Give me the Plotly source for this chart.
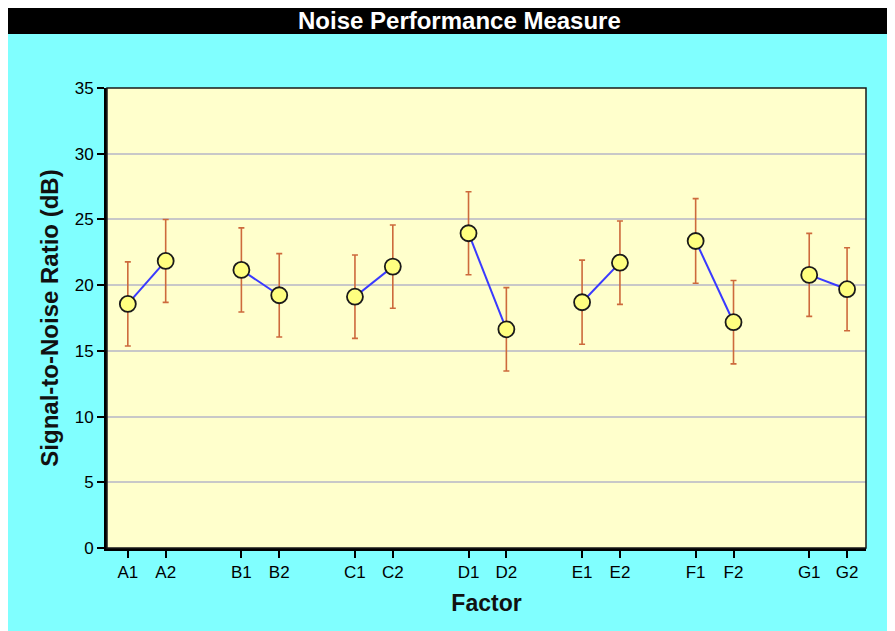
import plotly.graph_objects as go

# ---- data ----
factors = ["A", "B", "C", "D", "E", "F", "G"]
levels = ["1", "2"]
sn_ratio = [
    [18.57, 21.84],
    [21.16, 19.23],
    [19.12, 21.41],
    [23.95, 16.64],
    [18.70, 21.71],
    [23.36, 17.18],
    [20.78, 19.69],
]
sn_error = [
    [3.2, 3.15],
    [3.2, 3.17],
    [3.17, 3.17],
    [3.16, 3.17],
    [3.2, 3.17],
    [3.22, 3.17],
    [3.16, 3.16],
]
y_ticks = [0, 5, 10, 15, 20, 25, 30, 35]

# ---- styling ----
FONT = "Liberation Sans, Arial, sans-serif"
W, H = 895, 631
L, R, T, B = 99, 37, 80, 91
PW, PH = W - L - R, H - T - B


def px_x(px):
    return (px - L) / PW


def px_y(py):
    return (H - B - py) / PH


fig = go.Figure()

tickvals, ticktext = [], []
for gi, f in enumerate(factors):
    xs = [gi * 3 + li for li in range(len(levels))]
    labels = [f + lv for lv in levels]
    tickvals += xs
    ticktext += labels
    fig.add_trace(go.Scatter(
        x=xs, y=sn_ratio[gi],
        mode="lines+markers",
        line=dict(color="#3a3aff", width=2),
        marker=dict(size=16, color="#ffff80", line=dict(color="#1a1a1a", width=1.8)),
        error_y=dict(type="data", array=sn_error[gi], color="#cd6a3c", thickness=1.6, width=3),
        showlegend=False,
        hoverinfo="x+y",
        text=labels,
    ))

shapes = [
    # black title bar
    dict(type="rect", xref="paper", yref="paper", x0=px_x(-5), x1=px_x(W + 5), y0=px_y(26), y1=px_y(-5),
         fillcolor="black", line=dict(width=0), layer="below"),
    # plot frame
    dict(type="rect", xref="paper", yref="paper", x0=0, x1=1, y0=0, y1=1,
         line=dict(color="#1a1a1a", width=1.5), fillcolor="rgba(0,0,0,0)", layer="above"),
]

fig.update_layout(
    width=W, height=H,
    margin=dict(l=L, r=R, t=T, b=B, pad=0),
    paper_bgcolor="#80ffff",
    plot_bgcolor="#ffffcc",
    font=dict(family=FONT, size=17, color="black"),
    shapes=shapes,
    annotations=[dict(
        text="Noise Performance Measure", xref="paper", yref="paper",
        x=px_x(451.5), y=px_y(12.5), xanchor="center", yanchor="middle",
        showarrow=False, font=dict(family=FONT, size=24, color="white", weight="bold"),
    )],
    xaxis=dict(
        range=[-0.55, 19.5], tickvals=tickvals, ticktext=ticktext,
        ticks="outside", ticklen=7, tickwidth=1.5, tickcolor="black",
        showgrid=False, zeroline=False,
        showline=True, linewidth=3, linecolor="black",
        tickfont=dict(family=FONT, size=17, color="black"),
        title=dict(text="Factor", standoff=14,
                   font=dict(family=FONT, size=23, color="#111111", weight="bold")),
    ),
    yaxis=dict(
        range=[0, 35], tickvals=y_ticks,
        ticks="outside", ticklen=7, tickwidth=1.5, tickcolor="black",
        showgrid=True, gridcolor="#c8c8c8", gridwidth=2,
        zeroline=False,
        showline=True, linewidth=3, linecolor="black",
        tickfont=dict(family=FONT, size=17, color="black"),
        title=dict(text="Signal-to-Noise Ratio (dB)", standoff=10,
                   font=dict(family=FONT, size=24, color="#111111", weight="bold")),
    ),
)

fig.write_html("out.html")
